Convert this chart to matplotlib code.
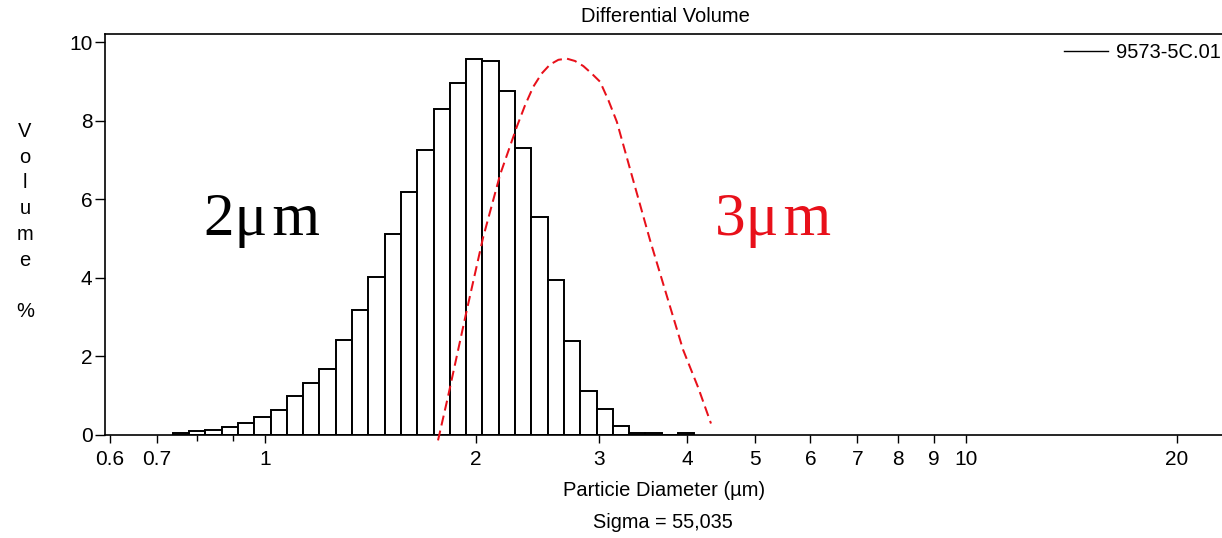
import numpy as np
import matplotlib
matplotlib.use("Agg")
import matplotlib.pyplot as plt

plt.rcParams['font.family'] = ['Liberation Sans', 'DejaVu Sans']

# channel lower edges (um) and differential volume (%)
diam_edges = [0.7385, 0.7791, 0.8220, 0.8672, 0.9149, 0.9652, 1.0183, 1.0743,
              1.1334, 1.1957, 1.2615, 1.3309, 1.4041, 1.4813, 1.5628, 1.6487,
              1.7394, 1.8351, 1.9360, 2.0425, 2.1548, 2.2733, 2.3984, 2.5303,
              2.6695, 2.8163, 2.9712, 3.1346, 3.3070, 3.4889, 3.6808, 3.8832,
              4.0968]
volume = [0.05, 0.08, 0.12, 0.20, 0.30, 0.44, 0.63, 0.97,
          1.32, 1.66, 2.40, 3.17, 4.02, 5.10, 6.17, 7.26,
          8.29, 8.95, 9.57, 9.52, 8.75, 7.31, 5.55, 3.94,
          2.39, 1.10, 0.64, 0.22, 0.05, 0.04, 0.0, 0.04]

# hand drawn 3um curve
curve_x = [1.765, 1.824, 1.935, 2.046, 2.164, 2.286, 2.349, 2.413, 2.481,
           2.550, 2.621, 2.694, 2.768, 2.845, 2.924, 3.006, 3.089, 3.176,
           3.350, 3.541, 3.746, 3.948, 4.148, 4.327]
curve_y = [-0.15, 0.97, 3.08, 5.01, 6.62, 7.84, 8.39, 8.86, 9.20,
           9.43, 9.55, 9.58, 9.52, 9.39, 9.20, 8.99, 8.52, 7.97,
           6.49, 4.96, 3.51, 2.16, 1.20, 0.28]

xticks = [0.6, 0.7, 1, 2, 3, 4, 5, 6, 7, 8, 9, 10, 20]
xticklabels = ["0.6", "0.7", "1", "2", "3", "4", "5", "6", "7", "8", "9", "10", "20"]
xminor = [0.8, 0.9]
yticks = [0, 2, 4, 6, 8, 10]
red = '#e8101a'

fig = plt.figure(figsize=(12.22, 5.38), dpi=100)
ax = fig.add_axes([105 / 1222, 1 - 434.5 / 538, 1 - 105 / 1222, (434.5 - 34.3) / 538])

edges = np.array(diam_edges)
ax.bar(edges[:-1], volume, width=np.diff(edges), align='edge',
       facecolor='white', edgecolor='black', linewidth=1.4, zorder=2)
ax.plot([], [], color='black', linewidth=1.0, label='9573-5C.01')
ax.plot(curve_x, curve_y, color=red, linestyle=(0, (5, 2.6)), linewidth=1.45,
        clip_on=False, zorder=3)

ax.set_xscale('log')
ax.set_xlim(0.591, 23.19)
ax.set_ylim(0, 10.2)
ax.set_xticks(xticks)
ax.set_xticklabels(xticklabels)
ax.set_xticks(xminor, minor=True)
ax.set_yticks(yticks)
ax.tick_params(axis='x', which='major', direction='out', length=5.5, width=1, labelsize=15, pad=6)
ax.tick_params(axis='x', which='minor', direction='out', length=4.5, width=1, labelbottom=False)
ax.tick_params(axis='y', direction='out', length=7, width=1, labelsize=15, pad=2)
ax.spines['right'].set_visible(False)
for s in ['left', 'top', 'bottom']:
    ax.spines[s].set_linewidth(1.2)

fig.text(665 / 1222, 1 - 16 / 538, 'Differential Volume', ha='center', va='center', fontsize=14.5)
fig.text(664 / 1222, 1 - 490 / 538, 'Particie Diameter (µm)', ha='center', va='center', fontsize=14.5)
fig.text(663 / 1222, 1 - 522 / 538, 'Sigma = 55,035', ha='center', va='center', fontsize=14.3)
fig.text(25 / 1222, 1 - 221.5 / 538, 'V\no\nl\nu\nm\ne\n\n%', ha='center', va='center',
         fontsize=14.5, linespacing=1.45)

ax.legend(loc='center left', bbox_to_anchor=(1064 / 1222, 1 - 53 / 538),
          bbox_transform=fig.transFigure, frameon=False, fontsize=14.5,
          handlelength=2.2, handletextpad=0.4, borderaxespad=0, borderpad=0)

fig.text(262 / 1222, 1 - 220 / 538, '2μ\u200am', ha='center', va='center', fontsize=44,
         family=['Liberation Serif', 'DejaVu Serif'], color='black')
fig.text(773 / 1222, 1 - 220 / 538, '3μ\u200am', ha='center', va='center', fontsize=44,
         family=['Liberation Serif', 'DejaVu Serif'], color=red)

fig.savefig('out.png', dpi=100)
